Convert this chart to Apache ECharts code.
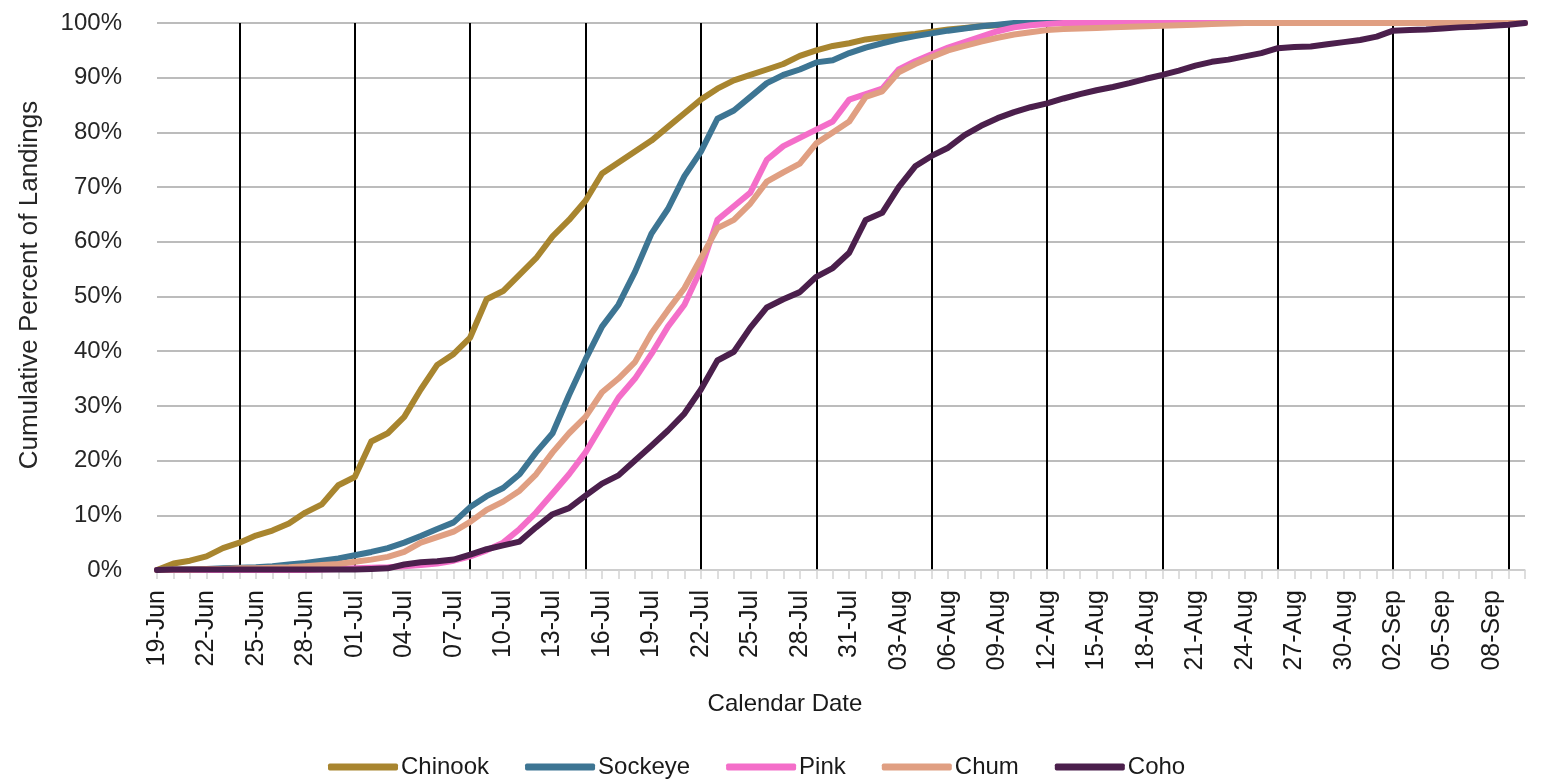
<!DOCTYPE html>
<html lang="en">
<head>
    <meta charset="UTF-8">
    <title>Cumulative Percent of Landings</title>
    <script src="https://cdn.jsdelivr.net/npm/echarts@6/dist/echarts.min.js"></script>
    <style>
        html, body { margin: 0; padding: 0; background: #fff; }
    </style>
</head>
<body>
    <div id="main" style="width:1544px;height:781px;"></div>
    <script>
        // calendar days, 19-Jun .. 10-Sep
        var dates = [
            '19-Jun','20-Jun','21-Jun','22-Jun','23-Jun','24-Jun','25-Jun','26-Jun','27-Jun','28-Jun','29-Jun','30-Jun',
            '01-Jul','02-Jul','03-Jul','04-Jul','05-Jul','06-Jul','07-Jul','08-Jul','09-Jul','10-Jul','11-Jul','12-Jul',
            '13-Jul','14-Jul','15-Jul','16-Jul','17-Jul','18-Jul','19-Jul','20-Jul','21-Jul','22-Jul','23-Jul','24-Jul',
            '25-Jul','26-Jul','27-Jul','28-Jul','29-Jul','30-Jul','31-Jul',
            '01-Aug','02-Aug','03-Aug','04-Aug','05-Aug','06-Aug','07-Aug','08-Aug','09-Aug','10-Aug','11-Aug','12-Aug',
            '13-Aug','14-Aug','15-Aug','16-Aug','17-Aug','18-Aug','19-Aug','20-Aug','21-Aug','22-Aug','23-Aug','24-Aug',
            '25-Aug','26-Aug','27-Aug','28-Aug','29-Aug','30-Aug','31-Aug',
            '01-Sep','02-Sep','03-Sep','04-Sep','05-Sep','06-Sep','07-Sep','08-Sep','09-Sep','10-Sep'
        ];

        // cumulative percent, one value per day
        var chinook = [
            0, 1.2, 1.7, 2.5, 4.0, 5.0, 6.3, 7.2, 8.5, 10.5, 12.0, 15.5,
            17.0, 23.5, 25.0, 28.0, 33.0, 37.5, 39.5, 42.5, 49.5, 51.0, 54.0, 57.0,
            61.0, 64.0, 67.5, 72.5, 74.5, 76.5, 78.5, 81.0, 83.5, 86.0, 88.0, 89.5,
            90.5, 91.5, 92.5, 94.0, 95.0, 95.8, 96.3,
            97.0, 97.4, 97.7, 98.0, 98.4, 98.8, 99.1, 99.4, 99.6, 99.8, 100, 100,
            100, 100, 100, 100, 100, 100, 100, 100, 100, 100, 100, 100,
            100, 100, 100, 100, 100, 100, 100,
            100, 100, 100, 100, 100, 100, 100, 100, 100, 100
        ];
        var sockeye = [
            0, 0.1, 0.1, 0.2, 0.3, 0.4, 0.5, 0.7, 1.0, 1.3, 1.7, 2.1,
            2.7, 3.3, 4.0, 5.0, 6.2, 7.5, 8.7, 11.5, 13.5, 15.0, 17.5, 21.5,
            25.0, 32.0, 38.5, 44.5, 48.5, 54.5, 61.5, 66.0, 72.0, 76.5, 82.5, 84.0,
            86.5, 89.0, 90.5, 91.5, 92.8, 93.2, 94.5,
            95.5, 96.3, 97.0, 97.6, 98.1, 98.6, 99.0, 99.4, 99.7, 100, 100, 100,
            100, 100, 100, 100, 100, 100, 100, 100, 100, 100, 100, 100,
            100, 100, 100, 100, 100, 100, 100,
            100, 100, 100, 100, 100, 100, 100, 100, 100, 100
        ];
        var pink = [
            0, 0, 0, 0, 0, 0, 0, 0, 0, 0, 0.1, 0.2,
            0.3, 0.4, 0.5, 0.7, 0.9, 1.2, 1.7, 2.5, 3.6, 5.0, 7.5, 10.5,
            14.0, 17.5, 21.5, 26.5, 31.5, 35.0, 39.5, 44.5, 48.5, 55.0, 64.0, 66.5,
            69.0, 75.0, 77.5, 79.0, 80.5, 82.0, 86.0,
            87.0, 88.0, 91.5, 93.0, 94.3, 95.5, 96.5, 97.5, 98.5, 99.2, 99.6, 99.8,
            100, 100, 100, 100, 100, 100, 100, 100, 100, 100, 100, 100,
            100, 100, 100, 100, 100, 100, 100,
            100, 100, 100, 100, 100, 100, 100, 100, 100, 100
        ];
        var chum = [
            0, 0.1, 0.1, 0.2, 0.2, 0.3, 0.3, 0.4, 0.5, 0.7, 0.9, 1.1,
            1.5, 1.9, 2.4, 3.3, 5.0, 6.0, 7.0, 8.8, 11.0, 12.5, 14.5, 17.5,
            21.5, 25.0, 28.0, 32.5, 35.0, 38.0, 43.3, 47.5, 51.5, 57.0, 62.5, 64.0,
            67.0, 71.0, 72.7, 74.3, 78.0, 80.0, 82.0,
            86.5, 87.5, 91.0, 92.5, 93.8, 95.0, 95.8, 96.6, 97.3, 97.9, 98.3, 98.7,
            98.9, 99.0, 99.1, 99.2, 99.3, 99.4, 99.5, 99.6, 99.7, 99.8, 99.9, 100,
            100, 100, 100, 100, 100, 100, 100,
            100, 100, 100, 100, 100, 100, 100, 100, 100, 100
        ];
        var coho = [
            0, 0.1, 0.1, 0.1, 0.1, 0.1, 0.1, 0.1, 0.1, 0.1, 0.1, 0.1,
            0.1, 0.2, 0.3, 1.0, 1.4, 1.6, 1.9, 2.8, 3.8, 4.5, 5.2, 7.8,
            10.2, 11.3, 13.6, 15.8, 17.3, 20.0, 22.7, 25.5, 28.6, 33.0, 38.3, 39.9,
            44.3, 48.0, 49.5, 50.8, 53.6, 55.2, 58.0,
            64.0, 65.3, 70.0, 73.8, 75.7, 77.2, 79.5, 81.2, 82.6, 83.7, 84.6, 85.3,
            86.2, 87.0, 87.7, 88.3, 89.0, 89.8, 90.5, 91.3, 92.2, 92.9, 93.3, 93.9,
            94.5, 95.4, 95.6, 95.7, 96.1, 96.5, 96.9,
            97.5, 98.6, 98.7, 98.8, 99.0, 99.2, 99.3, 99.5, 99.7, 100
        ];

        var names = ['Chinook', 'Sockeye', 'Pink', 'Chum', 'Coho'];
        var colors = ['#a8852f', '#3d7593', '#f46ec9', '#e09f82', '#4b1f4c'];
        var seriesData = [chinook, sockeye, pink, chum, coho];

        var font = "'Liberation Sans', Arial, sans-serif";

        var chart = echarts.init(document.getElementById('main'));

        var series = names.map(function (n, i) {
            return {
                name: n,
                type: 'line',
                data: seriesData[i],
                showSymbol: false,
                symbol: 'none',
                lineStyle: { width: 6, color: colors[i], cap: 'round', join: 'round' },
                itemStyle: { color: colors[i] }
            };
        });

        chart.setOption({
            backgroundColor: '#fff',
            animation: false,
            color: colors,
            grid: { left: 157, right: 19, top: 23, bottom: 211 },
            legend: {
                left: 323,
                top: 750,
                data: names,
                icon: 'roundRect',
                itemWidth: 70,
                itemHeight: 7,
                itemGap: 36,
                textStyle: { fontFamily: font, fontSize: 24, color: '#1a1a1a', padding: [0, 0, 0, -2] }
            },
            xAxis: {
                type: 'category',
                data: dates,
                boundaryGap: false,
                axisLine: { lineStyle: { color: '#d4d4d4', width: 1.5 } },
                axisTick: {
                    show: true,
                    interval: 0,
                    length: 9,
                    lineStyle: { color: '#d4d4d4', width: 1.5 }
                },
                axisLabel: {
                    interval: function (idx) { return idx % 3 === 0; },
                    rotate: 90,
                    margin: 20,
                    fontFamily: font,
                    fontSize: 25,
                    color: '#1a1a1a'
                },
                splitLine: {
                    show: true,
                    interval: function (idx) { return idx % 7 === 5; },
                    lineStyle: { color: '#000', width: 2 }
                }
            },
            yAxis: {
                type: 'value',
                min: 0,
                max: 100,
                interval: 10,
                axisLine: { show: false },
                axisTick: { show: false },
                axisLabel: {
                    formatter: '{value}%',
                    margin: 35,
                    fontFamily: font,
                    fontSize: 24,
                    color: '#262626'
                },
                splitLine: { lineStyle: { color: '#a6a6a6', width: 1.5 } }
            },
            graphic: [
                {
                    type: 'text',
                    x: 30,
                    y: 285,
                    rotation: Math.PI / 2,
                    style: {
                        text: 'Cumulative Percent of Landings',
                        fontFamily: font,
                        fontSize: 26,
                        fill: '#262626',
                        textAlign: 'center',
                        textVerticalAlign: 'middle'
                    }
                },
                {
                    type: 'text',
                    x: 785,
                    y: 704,
                    style: {
                        text: 'Calendar Date',
                        fontFamily: font,
                        fontSize: 24,
                        fill: '#1a1a1a',
                        textAlign: 'center',
                        textVerticalAlign: 'middle'
                    }
                }
            ],
            series: series
        });
    </script>
</body>
</html>
